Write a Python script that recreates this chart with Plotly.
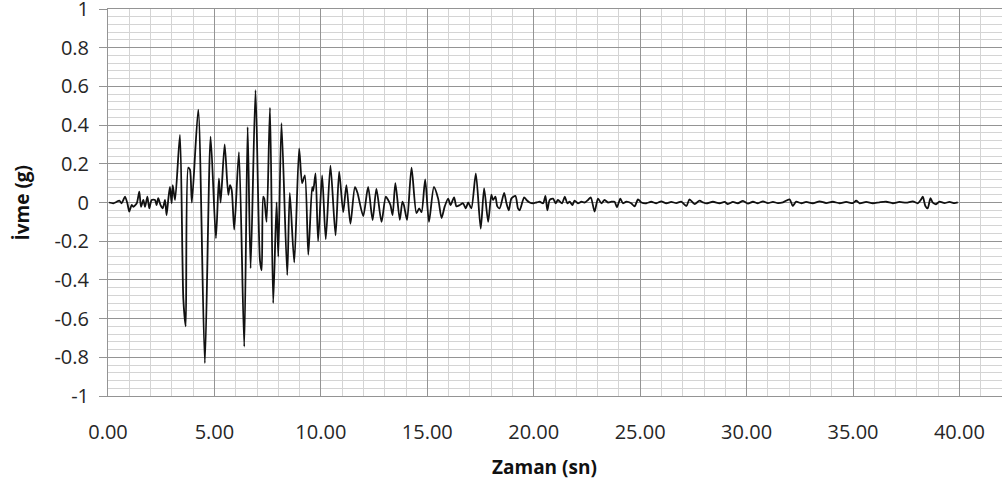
import plotly.graph_objects as go

time_s = [
    0.05, 0.25, 0.41, 0.53, 0.64, 0.72, 0.80, 0.91, 1.00, 1.11, 1.19, 1.35, 1.47, 1.55, 1.66, 1.74,
    1.85, 1.94, 2.05, 2.21, 2.28, 2.36, 2.47, 2.57, 2.68, 2.75, 2.83, 2.91, 2.99, 3.04, 3.15,
    3.38, 3.54, 3.65, 3.77, 3.85, 3.94, 4.24, 4.55, 4.82, 5.07, 5.21, 5.29, 5.48, 5.65, 5.73,
    5.81, 5.93, 6.15, 6.40, 6.56, 6.70, 6.93,
    7.14, 7.22, 7.29, 7.34, 7.45, 7.61, 7.76, 7.92, 8.00, 8.15, 8.42, 8.54, 8.75, 8.98, 9.12,
    9.25, 9.41, 9.59, 9.64, 9.75, 9.87, 10.06, 10.23, 10.45, 10.69, 10.86, 11.05, 11.20, 11.39,
    11.60, 11.72, 11.99,
    12.22, 12.43, 12.61, 12.85, 13.05, 13.16, 13.27, 13.37, 13.50, 13.71, 13.83, 13.90, 14.05,
    14.26, 14.49, 14.62, 14.73, 14.90, 15.08, 15.31, 15.51, 15.67, 15.82, 15.98, 16.09, 16.26,
    16.37, 16.53, 16.68, 16.81, 16.92, 17.07, 17.28,
    17.51, 17.67, 17.86, 18.01, 18.09, 18.20, 18.29, 18.40, 18.61, 18.72, 18.83, 18.95, 19.14,
    19.26, 19.34, 19.55, 19.66, 19.81, 19.97, 20.13, 20.28, 20.44, 20.55, 20.64, 20.75, 20.91,
    21.03, 21.14, 21.33, 21.46, 21.58, 21.69, 21.82, 21.92, 22.08, 22.24, 22.39, 22.55, 22.68,
    22.86, 23.02, 23.18, 23.33, 23.49, 23.65,
    23.80, 23.91, 24.07, 24.19, 24.35, 24.58, 24.74, 24.90, 25.06, 25.29, 25.52, 25.76, 25.99,
    26.23, 26.46, 26.70, 26.93, 27.17, 27.32, 27.56, 27.79, 27.95, 28.11, 28.42, 28.73, 28.97,
    29.12, 29.36, 29.59, 29.83, 30.06, 30.30, 30.53, 30.77, 31.00, 31.24, 31.47, 31.71, 32.02,
    32.17, 32.33, 32.57, 32.80, 33.11, 33.43, 33.74, 34.05, 34.37, 34.68, 34.99, 35.15, 35.31,
    35.62, 35.93, 36.24, 36.56, 36.87, 37.18, 37.50, 37.81, 38.04, 38.20, 38.28, 38.40, 38.51,
    38.64, 38.75, 38.90, 39.06, 39.30, 39.53, 39.77, 39.92,
]

accel_g = [
    0.0, -0.004, 0.004, 0.01, -0.004, 0.013, 0.03, -0.004, -0.047, -0.013, -0.022, -0.004, 0.056, -0.022, 0.013, -0.022,
    0.03, -0.03, 0.013, 0.013, -0.013, 0.022, -0.013, -0.03, 0.013, -0.065, 0.013, 0.08, -0.004, 0.09, 0.013,
    0.35, -0.50, -0.64, 0.18, 0.17, 0.0, 0.48, -0.83, 0.34, -0.185, 0.125, 0.0, 0.30, 0.04, 0.09,
    0.065, -0.14, 0.26, -0.745, 0.39, -0.34, 0.58,
    -0.30, -0.35, 0.03, 0.02, -0.10, 0.49, -0.52, 0.0, -0.28, 0.41, -0.375, 0.05, -0.31, 0.28, 0.10,
    0.14, -0.27, 0.08, 0.06, 0.15, -0.20, 0.14, -0.19, 0.19, -0.17, 0.16, -0.05, 0.09, -0.11,
    0.08, 0.05, -0.07,
    0.08, -0.09, 0.07, -0.10, 0.03, 0.013, -0.013, -0.065, 0.10, -0.09, 0.005, -0.013, -0.09,
    0.18, -0.055, -0.03, -0.05, 0.12, -0.10, 0.08, 0.02, -0.08, -0.02, 0.02, -0.013, 0.027,
    -0.02, -0.013, -0.004, -0.03, 0.0, -0.03, 0.15,
    -0.135, 0.073, -0.10, 0.04, 0.013, 0.03, -0.02, -0.03, 0.05, -0.004, -0.04, 0.02, 0.034,
    -0.03, -0.04, 0.027, 0.013, 0.0, -0.004, 0.0, 0.004, -0.004, 0.034, -0.04, 0.013, 0.02,
    -0.004, 0.013, -0.004, 0.03, -0.004, 0.004, -0.013, 0.01, -0.004, 0.004, 0.0, 0.013, 0.027,
    -0.047, 0.02, -0.004, 0.013, 0.0, 0.004,
    0.004, -0.025, 0.02, -0.004, 0.004, -0.004, -0.02, 0.016, 0.0, -0.004, 0.004, -0.004, 0.006,
    -0.004, 0.003, -0.003, 0.004, -0.018, 0.016, -0.008, 0.01, 0.001, -0.005, 0.004, -0.004, 0.003,
    -0.008, 0.003, -0.004, 0.008, -0.006, 0.004, -0.004, 0.006, -0.003, 0.003, -0.003, 0.001, 0.016,
    -0.018, 0.004, -0.004, 0.003, -0.004, 0.006, -0.003, 0.004, -0.004, 0.003, -0.003, 0.009, -0.004,
    0.003, -0.004, 0.001, 0.004, -0.004, 0.003, -0.001, 0.006, -0.004, 0.016, 0.03, -0.018, -0.03,
    0.022, -0.001, -0.009, 0.004, -0.003, 0.003, -0.003, 0.001,
]

x_tick_vals = [0, 5, 10, 15, 20, 25, 30, 35, 40]
x_tick_text = ["0.00", "5.00", "10.00", "15.00", "20.00", "25.00", "30.00", "35.00", "40.00"]
y_tick_vals = [-1, -0.8, -0.6, -0.4, -0.2, 0, 0.2, 0.4, 0.6, 0.8, 1]
y_tick_text = ["-1", "-0.8", "-0.6", "-0.4", "-0.2", "0", "0.2", "0.4", "0.6", "0.8", "1"]

FONT = "Open Sans"
MAJOR = "#949494"
MINOR = "#d4d4d4"

fig = go.Figure()
fig.add_trace(go.Scatter(
    x=time_s, y=accel_g, mode="lines",
    line=dict(color="#111111", width=1.8, shape="spline", smoothing=0.7),
    showlegend=False, hoverinfo="skip",
))

fig.update_layout(
    width=1002, height=490,
    margin=dict(l=108, r=0, t=9, b=94, autoexpand=False),
    paper_bgcolor="white", plot_bgcolor="white",
    font=dict(family=FONT, size=20, color="#262626"),
    xaxis=dict(
        range=[0, 42], tickmode="array", tickvals=x_tick_vals, ticktext=x_tick_text,
        automargin=False,
        showgrid=True, gridcolor=MAJOR, gridwidth=1, zeroline=False,
        showline=True, mirror=True, linecolor=MAJOR, linewidth=1,
        ticks="", ticklabelstandoff=18, ticklabeloverflow="allow",
        minor=dict(tickmode="linear", tick0=0, dtick=1, showgrid=True, gridcolor=MINOR, gridwidth=1),
    ),
    yaxis=dict(
        range=[-1, 1], tickmode="array", tickvals=y_tick_vals, ticktext=y_tick_text,
        automargin=False,
        showgrid=True, gridcolor=MAJOR, gridwidth=1, zeroline=False,
        showline=True, mirror=False, linecolor=MAJOR, linewidth=1,
        ticks="outside", ticklen=8, tickcolor=MAJOR, tickwidth=1, ticklabelstandoff=6,
        ticklabeloverflow="allow",
        minor=dict(tickmode="linear", tick0=0, dtick=0.04, showgrid=True, gridcolor=MINOR, gridwidth=1),
    ),
    annotations=[
        dict(text="<b>Zaman (sn)</b>", xref="paper", yref="paper", x=0.4877, y=-0.1835,
             showarrow=False, xanchor="center", yanchor="middle",
             font=dict(family=FONT, size=19, color="#111111")),
        dict(text="<b>İvme (g)</b>", xref="paper", yref="paper", x=-0.0962, y=0.5,
             showarrow=False, xanchor="center", yanchor="middle", textangle=-90,
             font=dict(family=FONT, size=19, color="#111111")),
    ],
)

fig.write_html("out.html")
